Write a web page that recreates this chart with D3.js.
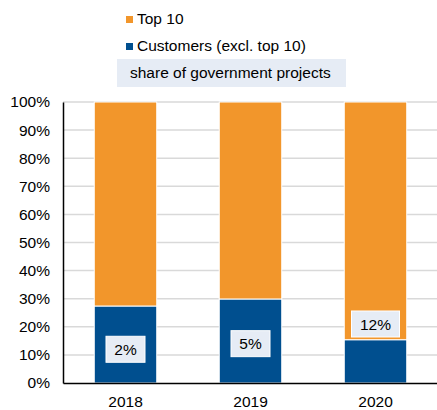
<!DOCTYPE html>
<html>
<head>
<meta charset="utf-8">
<script src="https://cdn.jsdelivr.net/npm/d3@7"></script>
<style>
  body { margin: 0; background: #fff; }
  svg { font-family: "Liberation Sans", Arial, sans-serif; display: block; }
</style>
</head>
<body>
<svg width="437" height="410"></svg>
<script>
const years = ["2018", "2019", "2020"];
const customers = [27.4, 29.9, 15.4];   // Customers (excl. top 10), %
const top10 = [72.6, 70.1, 84.6];       // Top 10, %
const govShare = ["2%", "5%", "12%"];   // share of government projects
const labelAt = [12, 14, 21];           // where the share label sits, in % units
const yTicks = [0, 10, 20, 30, 40, 50, 60, 70, 80, 90, 100];

const svg = d3.select("svg");
const margin = { left: 63, right: 0, top: 102, bottom: 27 };
const width = +svg.attr("width");
const height = +svg.attr("height");
const fs = 15.5;
const font = "Liberation Sans, Arial, sans-serif";

const orange = "#f2962b";
const blue = "#004f8f";

const x = d3.scaleBand().domain(years).range([margin.left, width + 1])
  .paddingInner(0.5).paddingOuter(0.25);
const y = d3.scaleLinear().domain([0, 100]).range([height - margin.bottom, margin.top]);

// gridlines
svg.append("g")
  .selectAll("line")
  .data(yTicks.slice(1))
  .join("line")
  .attr("x1", margin.left).attr("x2", width)
  .attr("y1", d => y(d)).attr("y2", d => y(d))
  .attr("stroke", "#d9d9d9").attr("stroke-width", 1.5);

// stacked bars
const rows = years.map((yr, i) => ({ year: yr, customers: customers[i], top10: top10[i] }));
const stack = d3.stack().keys(["customers", "top10"])(rows);
const colors = { customers: blue, top10: orange };

svg.append("g")
  .selectAll("g")
  .data(stack)
  .join("g")
  .attr("fill", d => colors[d.key])
  .selectAll("rect")
  .data(d => d)
  .join("rect")
  .attr("x", d => x(d.data.year))
  .attr("width", x.bandwidth())
  .attr("y", d => y(d[1]))
  .attr("height", d => y(d[0]) - y(d[1]))
  .attr("stroke", "#fff").attr("stroke-width", 1);

// share labels
const lab = svg.append("g").selectAll("g")
  .data(years)
  .join("g")
  .attr("transform", (d, i) => `translate(${x(d) + x.bandwidth() / 2},${y(labelAt[i])})`);

lab.append("rect")
  .attr("x", (d, i) => govShare[i].length > 2 ? -24 : -19.5)
  .attr("width", (d, i) => govShare[i].length > 2 ? 48 : 39)
  .attr("y", -13).attr("height", 26)
  .attr("fill", "#e6ecf5").attr("stroke", "#fff").attr("stroke-width", 1);

lab.append("text")
  .attr("text-anchor", "middle").attr("dy", "0.36em")
  .attr("font-size", fs).attr("fill", "#000")
  .text((d, i) => govShare[i]);

// axes
const yAxis = svg.append("g")
  .attr("transform", `translate(${margin.left},0)`)
  .call(d3.axisLeft(y).tickValues(yTicks).tickFormat(d => d + "%").tickSize(0).tickPadding(13));
yAxis.select(".domain").attr("stroke", "#000").attr("stroke-width", 1.5);
yAxis.selectAll("text").attr("font-size", fs).attr("fill", "#000").attr("font-family", font);

const xAxis = svg.append("g")
  .attr("transform", `translate(0,${y(0)})`)
  .call(d3.axisBottom(x).tickSize(0).tickPadding(13));
xAxis.select(".domain").attr("stroke", "#000").attr("stroke-width", 1.5);
xAxis.selectAll("text").attr("font-size", fs).attr("fill", "#000").attr("font-family", font);

// legend
const legend = svg.append("g");
const legendItems = [{ name: "Top 10", color: orange }, { name: "Customers (excl. top 10)", color: blue }];
legendItems.forEach((it, i) => {
  const ly = 19 + i * 27;
  legend.append("rect").attr("x", 126).attr("y", ly - 3).attr("width", 7).attr("height", 7).attr("fill", it.color);
  legend.append("text").attr("x", 137).attr("y", ly).attr("dy", "0.35em")
    .attr("font-size", fs).attr("fill", "#000").text(it.name);
});
legend.append("rect").attr("x", 117).attr("y", 59).attr("width", 229).attr("height", 28).attr("fill", "#e6ecf5");
legend.append("text").attr("x", 130).attr("y", 73).attr("dy", "0.35em")
  .attr("font-size", fs).attr("fill", "#000").text("share of government projects");
</script>
</body>
</html>
